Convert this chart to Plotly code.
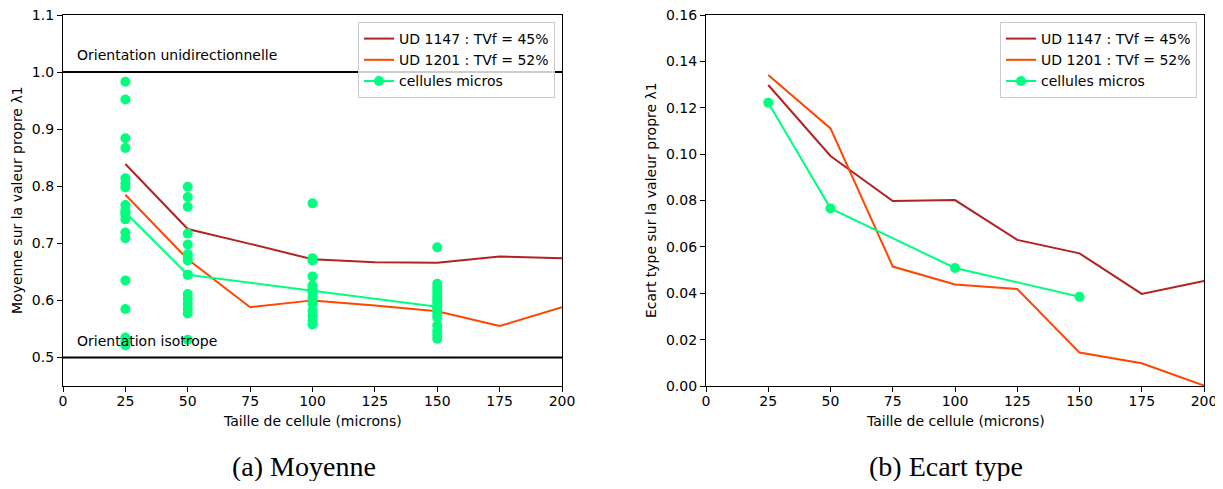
import plotly.graph_objects as go

# ---------------- data ----------------
sizes = [25, 50, 75, 100, 125, 150, 175, 200]
mean_ud1147 = [0.839, 0.725, 0.699, 0.672, 0.667, 0.666, 0.677, 0.674]
mean_ud1201 = [0.785, 0.672, 0.588, 0.600, 0.591, 0.581, 0.555, 0.588]
micro_sizes = [25, 50, 100, 150]
mean_micro = [0.754, 0.645, 0.617, 0.589]

scatter_25 = [0.983, 0.952, 0.884, 0.867, 0.814, 0.805, 0.798, 0.767, 0.758, 0.750,
              0.742, 0.719, 0.709, 0.635, 0.585, 0.535, 0.527, 0.521]
scatter_50 = [0.799, 0.781, 0.764, 0.717, 0.698, 0.681, 0.675, 0.670, 0.645, 0.611,
              0.603, 0.594, 0.585, 0.577, 0.531]
scatter_100 = [0.770, 0.674, 0.670, 0.642, 0.626, 0.621, 0.614, 0.605, 0.600, 0.594,
               0.582, 0.573, 0.565, 0.558]
scatter_150 = [0.693, 0.629, 0.623, 0.617, 0.611, 0.605, 0.600, 0.594, 0.588, 0.582,
               0.576, 0.570, 0.556, 0.547, 0.540, 0.533]

std_ud1147 = [0.1298, 0.0992, 0.0798, 0.0802, 0.0630, 0.0572, 0.0397, 0.0453]
std_ud1201 = [0.1341, 0.1111, 0.0515, 0.0438, 0.0418, 0.0144, 0.0098, 0.0002]
std_micro = [0.1222, 0.0766, 0.0509, 0.0385]

names = ["UD 1147 : TVf = 45%", "UD 1201 : TVf = 52%", "cellules micros"]
xtitle = "Taille de cellule (microns)"
ytitle_left = "Moyenne sur la valeur propre λ1"
ytitle_right = "Ecart type sur la valeur propre λ1"
captions = ["(a) Moyenne", "(b) Ecart type"]
col_red = "#B22222"
col_orange = "#FF4500"
col_green = "#00FF7F"

FONT = "DejaVu Sans"
FS = 14

fig = go.Figure()

# ---- left panel ----
fig.add_trace(go.Scatter(x=sizes, y=mean_ud1147, mode="lines", name=names[0],
                         line=dict(color=col_red, width=2), xaxis="x", yaxis="y",
                         legend="legend"))
fig.add_trace(go.Scatter(x=sizes, y=mean_ud1201, mode="lines", name=names[1],
                         line=dict(color=col_orange, width=2), xaxis="x", yaxis="y",
                         legend="legend"))
fig.add_trace(go.Scatter(x=micro_sizes, y=mean_micro, mode="lines+markers", name=names[2],
                         line=dict(color=col_green, width=2),
                         marker=dict(color=col_green, size=10), xaxis="x", yaxis="y",
                         legend="legend"))
sx = [25] * len(scatter_25) + [50] * len(scatter_50) + [100] * len(scatter_100) + [150] * len(scatter_150)
sy = scatter_25 + scatter_50 + scatter_100 + scatter_150
fig.add_trace(go.Scatter(x=sx, y=sy, mode="markers", showlegend=False,
                         marker=dict(color=col_green, size=10), xaxis="x", yaxis="y"))

# ---- right panel ----
fig.add_trace(go.Scatter(x=sizes, y=std_ud1147, mode="lines", name=names[0],
                         line=dict(color=col_red, width=2), xaxis="x2", yaxis="y2",
                         legend="legend2"))
fig.add_trace(go.Scatter(x=sizes, y=std_ud1201, mode="lines", name=names[1],
                         line=dict(color=col_orange, width=2), xaxis="x2", yaxis="y2",
                         legend="legend2"))
fig.add_trace(go.Scatter(x=micro_sizes, y=std_micro, mode="lines+markers", name=names[2],
                         line=dict(color=col_green, width=2),
                         marker=dict(color=col_green, size=10), xaxis="x2", yaxis="y2",
                         legend="legend2"))

# page body adds an 8px margin; size the figure so it fits the window
OFF = 8
W, H = 1223 - OFF, 489 - 2 * OFF
def px(x):
    return (x - OFF) / W
def py(y):
    return 1 - (y - OFF) / H

ax_common = dict(showline=True, linecolor="black", linewidth=1.3, mirror=True,
                 ticks="outside", ticklen=5, tickcolor="black", showgrid=False,
                 zeroline=False, automargin=False, ticklabeloverflow="allow",
                 tickfont=dict(family=FONT, size=FS, color="black"))

xticks = [0, 25, 50, 75, 100, 125, 150, 175, 200]
tfont = dict(family=FONT, size=FS, color="black")
legbg = "rgba(255,255,255,0.8)"

fig.update_layout(
    width=W, height=H,
    margin=dict(l=0, r=0, t=0, b=0, autoexpand=False),
    paper_bgcolor="white", plot_bgcolor="white",
    font=dict(family=FONT, size=FS, color="black"),
    xaxis=dict(domain=[px(63), px(562)], range=[0, 200], tickvals=xticks, anchor="y",
               ticklabelstandoff=-3, **ax_common),
    yaxis=dict(domain=[py(386), py(15)], range=[0.45, 1.1], tickvals=[0.5, 0.6, 0.7, 0.8, 0.9, 1.0, 1.1],
               tickformat=".1f", anchor="x", **ax_common),
    xaxis2=dict(domain=[px(706), px(1204)], range=[0, 200], tickvals=xticks, anchor="y2",
                ticklabelstandoff=-3, **ax_common),
    yaxis2=dict(domain=[py(386), py(15)], range=[0, 0.16],
                tickvals=[0, 0.02, 0.04, 0.06, 0.08, 0.10, 0.12, 0.14, 0.16],
                tickformat=".2f", anchor="x2", **ax_common),
    legend=dict(x=px(555), y=py(22), xanchor="right", yanchor="top",
                bgcolor=legbg, bordercolor="#cccccc", borderwidth=1,
                font=dict(family=FONT, size=FS), tracegroupgap=0, itemwidth=30),
    legend2=dict(x=px(1197), y=py(22), xanchor="right", yanchor="top",
                 bgcolor=legbg, bordercolor="#cccccc", borderwidth=1,
                 font=dict(family=FONT, size=FS), tracegroupgap=0, itemwidth=30),
    shapes=[
        dict(type="line", xref="x", yref="y", x0=0, x1=200, y0=1.0, y1=1.0,
             line=dict(color="black", width=2), layer="below"),
        dict(type="line", xref="x", yref="y", x0=0, x1=200, y0=0.5, y1=0.5,
             line=dict(color="black", width=2), layer="below"),
    ],
    annotations=[
        dict(text="Orientation unidirectionnelle", xref="x", yref="y", x=5, y=1.012,
             xanchor="left", yanchor="bottom", showarrow=False,
             font=dict(family=FONT, size=FS, color="black")),
        dict(text="Orientation isotrope", xref="x", yref="y", x=5, y=0.512,
             xanchor="left", yanchor="bottom", showarrow=False,
             font=dict(family=FONT, size=FS, color="black")),
        dict(text=xtitle, xref="paper", yref="paper", x=px(312.5), y=py(421),
             xanchor="center", yanchor="middle", showarrow=False, font=tfont),
        dict(text=xtitle, xref="paper", yref="paper", x=px(955), y=py(421),
             xanchor="center", yanchor="middle", showarrow=False, font=tfont),
        dict(text=ytitle_left, xref="paper", yref="paper", x=px(17), y=py(200),
             xanchor="center", yanchor="middle", showarrow=False, textangle=-90, font=tfont),
        dict(text=ytitle_right, xref="paper", yref="paper", x=px(651), y=py(200),
             xanchor="center", yanchor="middle", showarrow=False, textangle=-90, font=tfont),
        dict(text=captions[0], xref="paper", yref="paper", x=px(304), y=py(466),
             xanchor="center", yanchor="middle", showarrow=False,
             font=dict(family="Liberation Serif", size=28, color="black")),
        dict(text=captions[1], xref="paper", yref="paper", x=px(946), y=py(466),
             xanchor="center", yanchor="middle", showarrow=False,
             font=dict(family="Liberation Serif", size=28, color="black")),
    ],
)

fig.write_html("out.html")
